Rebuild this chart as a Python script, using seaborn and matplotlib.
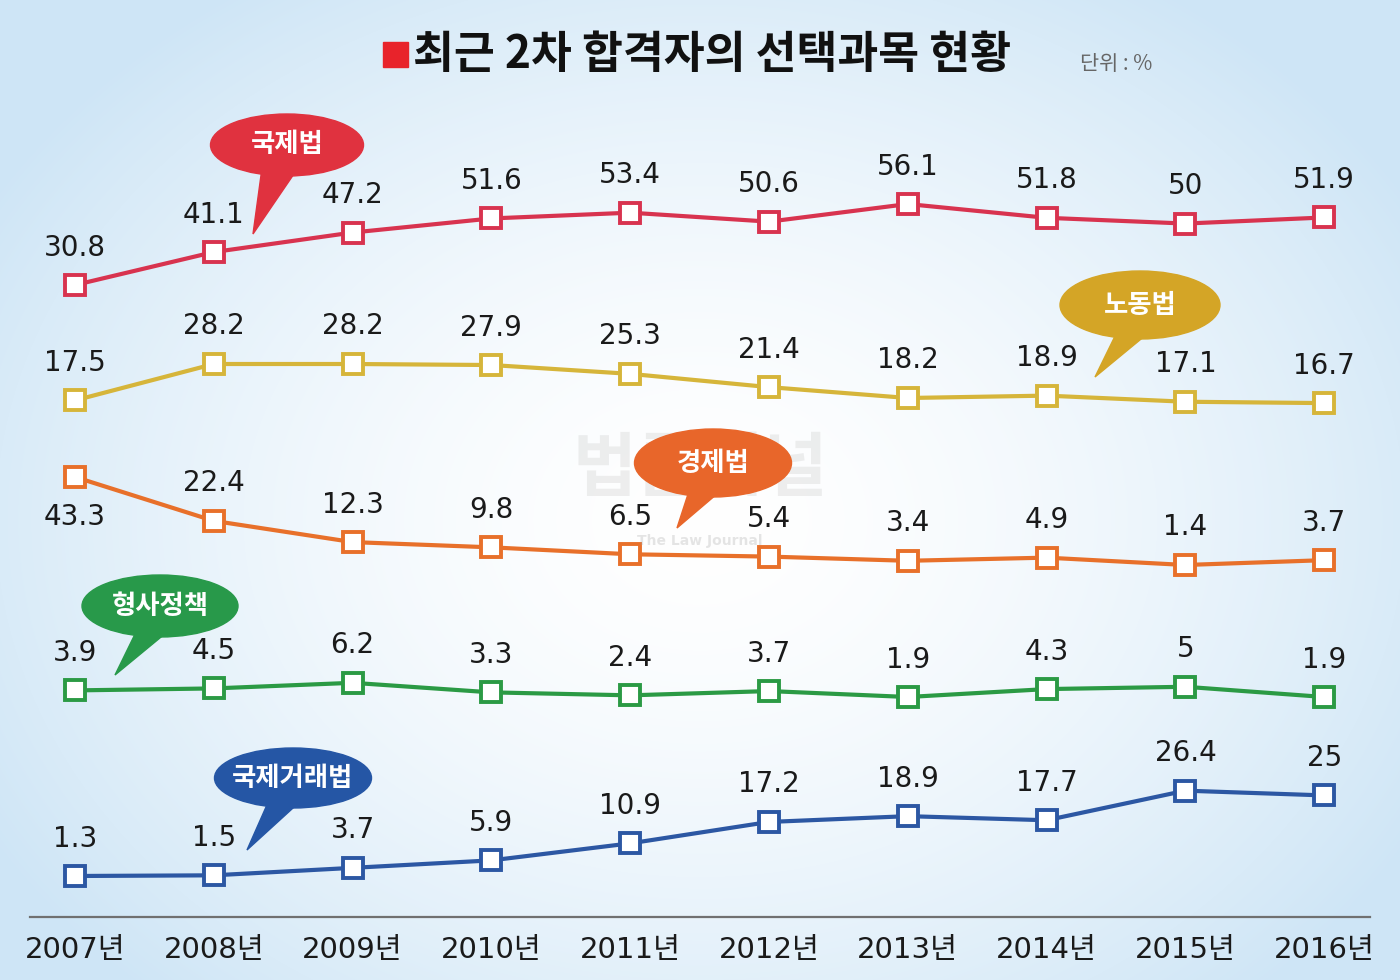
import numpy as np
import pandas as pd
import seaborn as sns
import matplotlib.pyplot as plt
from matplotlib.patches import Ellipse, Polygon, Rectangle

# 데이터 (단위: %)
years = ["2007", "2008", "2009", "2010", "2011", "2012", "2013", "2014", "2015", "2016"]
subjects = ["국제법", "노동법", "경제법", "형사정책", "국제거래법"]
intl_law = [30.8, 41.1, 47.2, 51.6, 53.4, 50.6, 56.1, 51.8, 50, 51.9]
labor_law = [17.5, 28.2, 28.2, 27.9, 25.3, 21.4, 18.2, 18.9, 17.1, 16.7]
econ_law = [43.3, 22.4, 12.3, 9.8, 6.5, 5.4, 3.4, 4.9, 1.4, 3.7]
criminal_policy = [3.9, 4.5, 6.2, 3.3, 2.4, 3.7, 1.9, 4.3, 5, 1.9]
intl_trade_law = [1.3, 1.5, 3.7, 5.9, 10.9, 17.2, 18.9, 17.7, 26.4, 25]

sns.set_theme(style="white")
plt.rcParams['font.family'] = ['DejaVu Sans', 'Noto Sans CJK KR']

W, H = 1400, 980
fig = plt.figure(figsize=(14, 9.8), dpi=100)

# 배경 (연한 하늘색 그라데이션)
bg = fig.add_axes([0, 0, 1, 1])
yy, xx = np.mgrid[0:H, 0:W]
r = np.sqrt(((xx - 700) / 820) ** 2 + ((yy - 520) / 640) ** 2)
t = np.clip(r, 0, 1) ** 1.6
edge = np.array([0.81, 0.90, 0.965])
img = (1 - t)[..., None] * np.array([1.0, 1.0, 1.0]) + t[..., None] * edge
bg.imshow(img, aspect='auto', extent=[0, W, H, 0])
bg.axis('off')

# 각 과목은 자기 띠(band) 안에 그려짐: (기준값, 기준 픽셀, px/단위)
series = [
    (intl_law, "#d8334f", 30.8, 285, 3.2),
    (labor_law, "#d6b53a", 28.2, 364, 3.4),
    (econ_law, "#e8702a", 43.3, 477, 2.1),
    (criminal_policy, "#2b9a44", 1.9, 697, 3.3),
    (intl_trade_law, "#2c57a3", 1.3, 876, 3.4),
]

x0_px, step_px = 75, 138.8
left_px, right_px, base_px = 30, 1370, 917

for i, (vals, color, v0, p0, s) in enumerate(series):
    ax = fig.add_axes([left_px / W, (H - base_px) / H, (right_px - left_px) / W, base_px / H])
    ax.set_facecolor('none')
    df = pd.DataFrame({'x': range(len(years)), 'v': vals})
    sns.lineplot(data=df, x='x', y='v', ax=ax, color=color, linewidth=3,
                 marker='s', markersize=15, markerfacecolor='white',
                 markeredgecolor=color, markeredgewidth=2.8)
    ax.set_xlim((left_px - x0_px) / step_px, (right_px - x0_px) / step_px)
    ax.set_ylim(v0 - (base_px - p0) / s, v0 + p0 / s)

    for j, v in enumerate(vals):
        dy = -29 if (i == 2 and j == 0) else 27
        ax.annotate(f"{v:g}", (j, v), xytext=(0, dy), textcoords='offset points',
                    ha='center', va='center', fontsize=20, color='#1a1a1a')

    for sp in ['top', 'left', 'right']:
        ax.spines[sp].set_visible(False)
    ax.set_ylabel("")
    ax.set_xlabel("")
    ax.set_yticks([])
    if i == len(series) - 1:
        ax.spines['bottom'].set_color('#707070')
        ax.spines['bottom'].set_linewidth(1.6)
        ax.set_xticks(range(len(years)))
        ax.set_xticklabels([y + "년" for y in years], fontsize=21, color='#1a1a1a')
        ax.tick_params(axis='x', length=0, pad=14)
    else:
        ax.spines['bottom'].set_visible(False)
        ax.set_xticks([])

# 장식 (제목, 말풍선) - 픽셀 좌표
deco = fig.add_axes([0, 0, 1, 1])
deco.set_xlim(0, W)
deco.set_ylim(H, 0)
deco.axis('off')
deco.set_facecolor('none')

deco.add_patch(Rectangle((383, 42), 25, 25, color='#e8232b'))
deco.text(413, 55, "최근 2차 합격자의 선택과목 현황", fontsize=32, fontweight='bold',
          family=['Noto Sans CJK KR'], color='#111111', ha='left', va='center')
deco.text(1080, 64, "단위 : %", fontsize=15, family=['Noto Sans CJK KR'],
          color='#666666', ha='left', va='center')

# 워터마크
deco.text(700, 470, "법률저널", fontsize=50, fontweight='bold', family=['Noto Sans CJK KR'],
          color='#9a9a9a', alpha=0.16, ha='center', va='center')
deco.text(700, 541, "The Law Journal", fontsize=10, fontweight='bold',
          color='#9a9a9a', alpha=0.25, ha='center', va='center')

bubbles = [
    ("국제법", "#e0323f", (287, 145), 153, 62, [(262, 168), (298, 168), (253, 234)]),
    ("노동법", "#d4a526", (1140, 305), 160, 68, [(1118, 330), (1152, 330), (1095, 377)]),
    ("경제법", "#e8662a", (713, 463), 157, 68, [(690, 488), (724, 488), (677, 528)]),
    ("형사정책", "#28994a", (160, 606), 156, 62, [(138, 628), (172, 628), (115, 675)]),
    ("국제거래법", "#2556a5", (293, 778), 157, 60, [(270, 798), (304, 798), (247, 850)]),
]
for label, color, center, w, h, tail in bubbles:
    deco.add_patch(Polygon(tail, closed=True, color=color, zorder=3))
    deco.add_patch(Ellipse(center, w, h, color=color, zorder=3))
    deco.text(center[0], center[1], label, fontsize=19, fontweight='bold',
              family=['Noto Sans CJK KR'], color='white', ha='center', va='center', zorder=4)

fig.savefig("out.png", dpi=100)
